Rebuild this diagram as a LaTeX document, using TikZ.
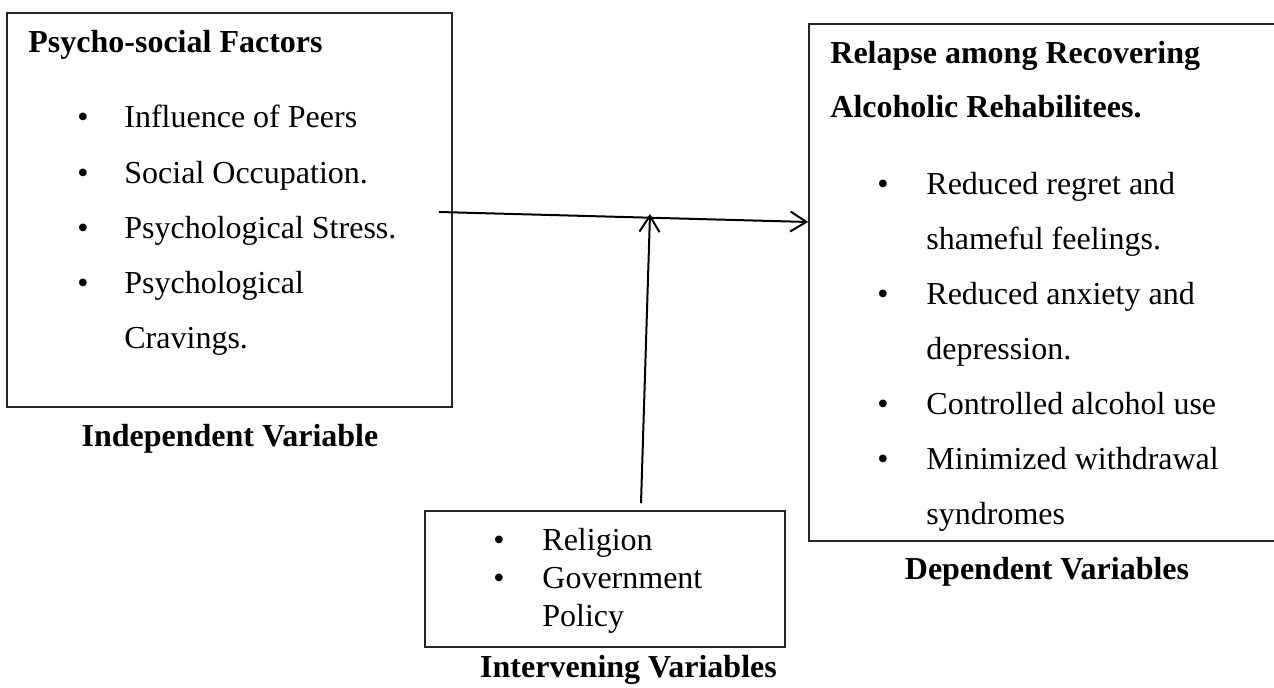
\documentclass[tikz,border=0pt]{standalone}
\usepackage{fontspec}
\setmainfont{Liberation Serif}
\usetikzlibrary{arrows.meta}

\begin{document}
\begin{tikzpicture}[x=0.5pt,y=-0.5pt,
    every node/.style={font=\fontsize{16}{19}\selectfont},
    varbox/.style={draw=black!85, line width=0.75pt, inner sep=0pt},
    head/.style={anchor=base west, inner sep=0pt, font=\fontsize{16}{19}\selectfont\bfseries},
    caption/.style={anchor=base, inner sep=0pt, font=\fontsize{16}{19}\selectfont\bfseries},
    item/.style={anchor=base west, inner sep=0pt},
    dot/.style={anchor=base west, inner sep=0pt},
    link/.style={line width=1pt, -{Straight Barb[length=8pt,width=10pt,line width=1pt]}}]
    % Page size
    \useasboundingbox (0,0) rectangle (1274,688);
    \clip (0,0) rectangle (1274,688);
    % Independent variable box
    \node[varbox, minimum width=222.5pt, minimum height=197pt] (indep) at (229.5,210) {};
    \node[head] (indeptitle) at (28,53) {Psycho-social Factors};
    \foreach \y/\txt [count=\i] in {128/Influence of Peers, 184/Social Occupation., 239/Psychological Stress., 294/Psychological}{
        \node[dot] (indepdot\i) at (77,\y) {\textbullet};
        \node[item] (indepitem\i) at (124,\y) {\txt};
    }
    \node[item] (indepitem5) at (124,349) {Cravings.};
    \node[caption] (indepcap) at (230,447) {Independent Variable};
    % Dependent variable box (runs past the right edge)
    \node[varbox, minimum width=240.5pt, minimum height=258.5pt] (dep) at (1049.5,282.5) {};
    \node[head] (deptitle1) at (830,64) {Relapse among Recovering};
    \node[head] (deptitle2) at (830,118) {Alcoholic Rehabilitees.};
    \foreach \y/\txt [count=\i] in {195/Reduced regret and, 305/Reduced anxiety and, 415/Controlled alcohol use, 470/Minimized withdrawal}{
        \node[dot] (depdot\i) at (877,\y) {\textbullet};
        \node[item] (depitem\i) at (926,\y) {\txt};
    }
    \node[item] (depmore1) at (926,250) {shameful feelings.};
    \node[item] (depmore2) at (926,360) {depression.};
    \node[item] (depmore3) at (926,525) {syndromes};
    \node[caption] (depcap) at (1047,580) {Dependent Variables};
    % Intervening variables box
    \node[varbox, minimum width=180pt, minimum height=68pt] (intv) at (605,579) {};
    \node[dot] (intvdot1) at (493,551) {\textbullet};
    \node[item] (intvitem1) at (542,551) {Religion};
    \node[dot] (intvdot2) at (493,589) {\textbullet};
    \node[item] (intvitem2) at (542,589) {Government};
    \node[item] (intvitem3) at (542,627) {Policy};
    \node[caption] (intvcap) at (628.5,678) {Intervening Variables};
    % Arrows
    \coordinate (hstart) at (439,212);
    \coordinate (vtip) at (650,214);
    \draw[link] (hstart) -- ([yshift=30.25pt]dep.west);
    \draw[link] ([xshift=18pt,yshift=3.5pt]intv.north) -- (vtip);
\end{tikzpicture}
\end{document}
